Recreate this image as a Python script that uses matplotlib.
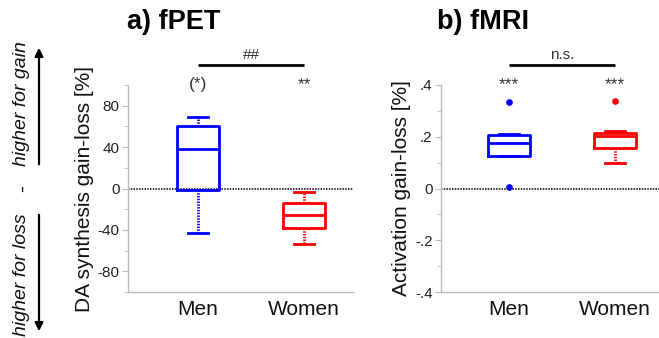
import matplotlib
matplotlib.use("Agg")
import matplotlib.pyplot as plt
from matplotlib.patches import FancyArrowPatch

plt.rcParams['font.family'] = ['Liberation Sans', 'DejaVu Sans']

# ---- data ----
groups = ["Men", "Women"]
colors = ["#0000ff", "#ff0000"]

# panel a: fPET (DA synthesis gain-loss [%])
pet_whislo = [-43, -54]
pet_q1 = [-1, -38]
pet_med = [38.5, -25.6]
pet_q3 = [60, -14]
pet_whishi = [69.5, -3.5]
pet_fliers = [[], []]
pet_stars = ["(*)", "**"]
pet_between = "##"
pet_ticks = [-80, -40, 0, 40, 80]
pet_ticklabels = ["-80", "-40", "0", "40", "80"]

# panel b: fMRI (Activation gain-loss [%])
mri_whislo = [0.125, 0.097]
mri_q1 = [0.125, 0.155]
mri_med = [0.174, 0.203]
mri_q3 = [0.205, 0.215]
mri_whishi = [0.212, 0.221]
mri_fliers = [[0.335, 0.004], [0.34]]
mri_stars = ["***", "***"]
mri_between = "n.s."
mri_ticks = [-0.4, -0.2, 0, 0.2, 0.4]
mri_ticklabels = ["-.4", "-.2", "0", ".2", ".4"]

W, H = 659, 338
fig = plt.figure(figsize=(W / 100, H / 100), dpi=100)


def make_axes(left_px, xlim):
    ax = fig.add_axes([left_px / W, (H - 292) / H, 225 / W, (292 - 85) / H])
    ax.set_xlim(*xlim)
    return ax


def draw_panel(ax, whislo, q1, med, q3, whishi, fliers, ylim, ticks, ticklabels,
               minor, ylabel, stars, between, title, title_x):
    stats = []
    for i in range(len(groups)):
        stats.append(dict(whislo=whislo[i], q1=q1[i], med=med[i], q3=q3[i],
                          whishi=whishi[i], fliers=fliers[i], label=groups[i]))
    for i, st in enumerate(stats):
        c = colors[i]
        ax.bxp([st], positions=[i + 1], widths=0.4, showfliers=True,
               boxprops=dict(color=c, lw=2.0),
               medianprops=dict(color=c, lw=2.0),
               whiskerprops=dict(color=c, lw=2.0, linestyle=(0, (0.5, 0.5))),
               capprops=dict(color=c, lw=2.0),
               capwidths=0.19,
               flierprops=dict(marker='o', markerfacecolor=c, markeredgecolor=c,
                               markersize=3.8, linestyle='none'),
               manage_ticks=False, zorder=3)
    ax.axhline(0, color='black', lw=1.1, linestyle=(0, (1, 0.8)), zorder=2)
    ax.set_ylim(*ylim)
    ax.set_yticks(ticks)
    ax.set_yticklabels(ticklabels)
    ax.set_yticks(minor, minor=True)
    ax.set_xticks([1, 2])
    ax.set_xticklabels(groups)
    for s in ['top', 'right']:
        ax.spines[s].set_visible(False)
    for s in ['left', 'bottom']:
        ax.spines[s].set_color('#bbbbbb')
        ax.spines[s].set_linewidth(1.0)
    ax.tick_params(axis='y', which='major', length=4, color='#bbbbbb',
                   labelsize=11, labelcolor='#222222', pad=2)
    ax.tick_params(axis='y', which='minor', length=3, color='#bbbbbb')
    ax.tick_params(axis='x', length=0, labelsize=15, labelcolor='#111111', pad=6)
    ax.set_ylabel(ylabel, fontsize=15, color='#111111', labelpad=3)
    yr = ylim[1] - ylim[0]
    for i, s in enumerate(stars):
        ax.text(i + 1, ylim[1] + yr * 0.0, s, ha='center', va='center',
                fontsize=12.5, color='#333333', clip_on=False)
    ax.plot([1, 2], [ylim[1] + yr * 0.097, ylim[1] + yr * 0.097], color='black',
            lw=2.0, clip_on=False, solid_capstyle='butt')
    ax.text(1.5, ylim[1] + yr * 0.145, between, ha='center', va='center',
            fontsize=11, color='#333333', clip_on=False)
    fig.text(title_x / W, 1 - 22 / H, title, ha='left', va='center',
             fontsize=19.5, fontweight='bold')


ax1 = make_axes(128, (0.34, 2.46))
draw_panel(ax1, pet_whislo, pet_q1, pet_med, pet_q3, pet_whishi, pet_fliers,
           (-100, 100), pet_ticks, pet_ticklabels, [-100, -60, -20, 20, 60, 100],
           "DA synthesis gain-loss [%]", pet_stars, pet_between, "a) fPET", 127)

ax2 = make_axes(441, (0.358, 2.48))
draw_panel(ax2, mri_whislo, mri_q1, mri_med, mri_q3, mri_whishi, mri_fliers,
           (-0.4, 0.4), mri_ticks, mri_ticklabels, [-0.3, -0.1, 0.1, 0.3],
           "Activation gain-loss [%]", mri_stars, mri_between, "b) fMRI", 437)

# left direction annotation
fig.text(22 / W, 1 - 104 / H, "higher for gain", rotation=90, ha='center',
         va='center', fontsize=14, style='italic', color='#111111')
fig.text(22 / W, 1 - 275 / H, "higher for loss", rotation=90, ha='center',
         va='center', fontsize=14, style='italic', color='#111111')
fig.text(22 / W, 1 - 189 / H, "-", rotation=90, ha='center', va='center',
         fontsize=15, color='#111111')
fig.add_artist(FancyArrowPatch((39 / W, 1 - 167 / H), (39 / W, 1 - 45 / H),
                               transform=fig.transFigure, arrowstyle='-|>',
                               mutation_scale=12, lw=1.6, color='black'))
fig.add_artist(FancyArrowPatch((39 / W, 1 - 212 / H), (39 / W, 1 - 334 / H),
                               transform=fig.transFigure, arrowstyle='-|>',
                               mutation_scale=12, lw=1.6, color='black'))

fig.savefig("out.png", dpi=100)
